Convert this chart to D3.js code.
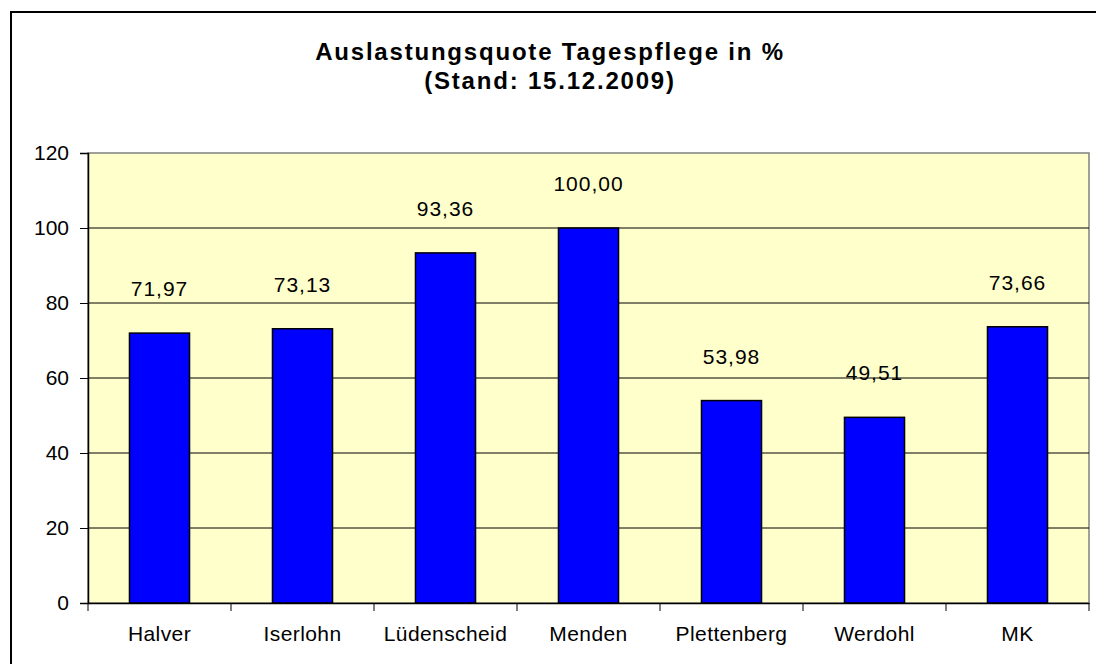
<!DOCTYPE html>
<html>
<head>
<meta charset="utf-8">
<script src="https://cdn.jsdelivr.net/npm/d3@7"></script>
<style>
  body { margin: 0; background: #fff; }
  svg { display: block; font-family: "Liberation Sans", Arial, sans-serif; }
</style>
</head>
<body>
<div class="chart"></div>
<script>
const categories = ["Halver", "Iserlohn", "Lüdenscheid", "Menden", "Plettenberg", "Werdohl", "MK"];
const values = [71.97, 73.13, 93.36, 100.00, 53.98, 49.51, 73.66];
const yTicks = [0, 20, 40, 60, 80, 100, 120];
const titleLines = ["Auslastungsquote Tagespflege in %", "(Stand: 15.12.2009)"];

const width = 1096, height = 664;
const plot = { left: 88, right: 1089, top: 153, bottom: 603 };

const svg = d3.select(".chart")
    .append("svg")
    .attr("width", width)
    .attr("height", height);

// outer frame
svg.append("rect")
    .attr("x", 11).attr("y", 12)
    .attr("width", width + 20).attr("height", height + 20)
    .attr("fill", "#fff")
    .attr("stroke", "#000")
    .attr("stroke-width", 2);

const x = d3.scaleBand()
    .domain(categories)
    .range([plot.left, plot.right])
    .paddingInner(0.58)
    .paddingOuter(0.29);

const y = d3.scaleLinear()
    .domain([0, 120])
    .range([plot.bottom, plot.top]);

// plot background
svg.append("rect")
    .attr("x", plot.left).attr("y", plot.top)
    .attr("width", plot.right - plot.left)
    .attr("height", plot.bottom - plot.top)
    .attr("fill", "#ffffcc")
    .attr("stroke", "#808080")
    .attr("stroke-width", 1.5);

// gridlines
svg.selectAll("line.grid")
    .data(yTicks.filter(d => d > 0 && d < 120))
    .enter()
    .append("line")
    .attr("class", "grid")
    .attr("x1", plot.left).attr("x2", plot.right)
    .attr("y1", d => y(d)).attr("y2", d => y(d))
    .attr("stroke", "#000")
    .attr("stroke-width", 1);

// y axis
const yAxis = svg.append("g")
    .attr("transform", `translate(${plot.left},0)`)
    .call(d3.axisLeft(y).tickValues(yTicks).tickSize(8).tickPadding(11));
yAxis.select(".domain").attr("stroke", "#000").attr("stroke-width", 1.5);
yAxis.selectAll("text")
    .style("font-size", "21px")
    .attr("fill", "#000");

// bars
svg.selectAll("rect.bar")
    .data(values)
    .enter()
    .append("rect")
    .attr("class", "bar")
    .attr("x", (d, i) => x(categories[i]))
    .attr("y", d => y(d))
    .attr("width", x.bandwidth())
    .attr("height", d => y(0) - y(d))
    .attr("fill", "#0000ff")
    .attr("stroke", "#000")
    .attr("stroke-width", 1.5);

// x axis
const xAxis = svg.append("g")
    .attr("transform", `translate(0,${plot.bottom})`)
    .call(d3.axisBottom(x).tickSize(0).tickPadding(23));
xAxis.select(".domain").attr("stroke", "#000").attr("stroke-width", 1.5);
xAxis.selectAll("text")
    .style("font-size", "21px")
    .style("letter-spacing", "0.4px")
    .attr("fill", "#000");

// x ticks between categories
const step = x.step();
const boundaries = d3.range(categories.length + 1).map(i => plot.left + i * step);
svg.selectAll("line.xtick")
    .data(boundaries)
    .enter()
    .append("line")
    .attr("class", "xtick")
    .attr("x1", d => d).attr("x2", d => d)
    .attr("y1", plot.bottom).attr("y2", plot.bottom + 8)
    .attr("stroke", "#000");

// value labels
svg.selectAll("text.value")
    .data(values)
    .enter()
    .append("text")
    .attr("class", "value")
    .attr("x", (d, i) => x(categories[i]) + x.bandwidth() / 2)
    .attr("y", d => y(d) - 37)
    .attr("text-anchor", "middle")
    .style("font-size", "21px")
    .style("letter-spacing", "1px")
    .text(d => d.toFixed(2).replace(".", ","));

// title
svg.selectAll("text.title")
    .data(titleLines)
    .enter()
    .append("text")
    .attr("class", "title")
    .attr("x", 550)
    .attr("y", (d, i) => 60 + i * 29)
    .attr("text-anchor", "middle")
    .style("font-size", "24px")
    .style("font-weight", "bold")
    .style("letter-spacing", "1.8px")
    .text(d => d);
</script>
</body>
</html>
